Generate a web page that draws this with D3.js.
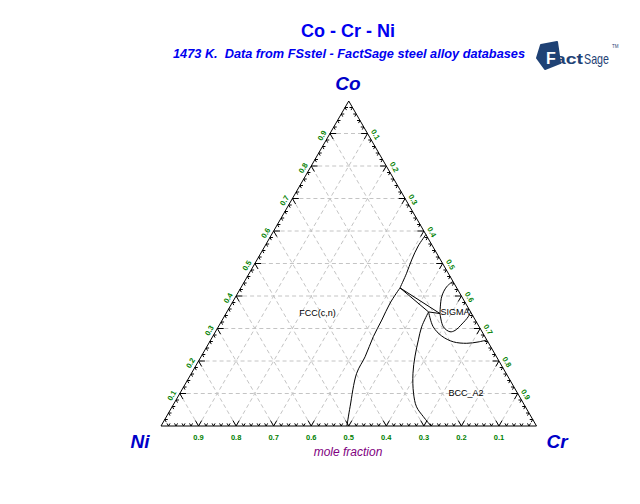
<!DOCTYPE html>
<html><head><meta charset="utf-8">
<script src="https://cdn.jsdelivr.net/npm/d3@7"></script>
<style>html,body{margin:0;padding:0;background:#fff;}svg{display:block;font-family:"Liberation Sans",Arial,sans-serif;}</style>
</head><body>
<script>
// ---- data (mole fractions: [xCr, xCo]) ----
const title = "Co - Cr - Ni";
const subtitle = "1473 K.\u00a0 Data from FSstel - FactSage steel alloy databases";
const vertexLabels = ["Ni", "Cr", "Co"];
const majorTicks = [0.1,0.2,0.3,0.4,0.5,0.6,0.7,0.8,0.9];
const tickLabels = ["0.1","0.2","0.3","0.4","0.5","0.6","0.7","0.8","0.9"];
const axisTitle = "mole fraction";

const fccLower = [[0.495,0],[0.474,0.059],[0.440,0.162],[0.437,0.213],[0.428,0.275],[0.425,0.326],[0.421,0.378],[0.424,0.425]];
const fccUpper = [[0.424,0.425],[0.419,0.470],[0.412,0.511],[0.408,0.554],[0.411,0.589]];
const bccLeft = [[0.537,0.351],[0.5415,0.3055],[0.553,0.265],[0.569,0.215],[0.590,0.162],[0.622,0.101],[0.651,0.059],[0.684,0.029],[0.719,0]];
const bccTop = [[0.537,0.351],[0.572,0.3055],[0.609,0.277],[0.649,0.259],[0.687,0.2545],[0.715,0.2585],[0.7354,0.2646]];
const sigmaUpper = [[0.570,0.346],[0.5485,0.398],[0.5466,0.4286],[0.555,0.445]];
const sigmaLower = [[0.570,0.346],[0.599,0.3055],[0.6246,0.290],[0.636,0.294],[0.6446,0.314],[0.650,0.336],[0.649,0.351]];
const tieTriangle = [[0.424,0.425],[0.537,0.351],[0.570,0.346],[0.424,0.425]];
const phaseLabels = [{t:"FCC(c,n)",c:[0.242,0.349]},{t:"SIGMA",c:[0.6076,0.351]},{t:"BCC_A2",c:[0.7615,0.1015]}];

// ---- drawing ----
const svg = d3.select("body").append("svg").attr("width",640).attr("height",504);
svg.append("rect").attr("width",640).attr("height",504).attr("fill","#fff");

const xs = d3.scaleLinear().domain([0,1]).range([161,536.5]);
const ys = d3.scaleLinear().domain([0,1]).range([426,101]);
const P = (cr,co) => [xs(cr+co/2), ys(co)];
const line = d3.line().x(d=>P(d[0],d[1])[0]).y(d=>P(d[0],d[1])[1]);
const smooth = d3.line().x(d=>P(d[0],d[1])[0]).y(d=>P(d[0],d[1])[1]).curve(d3.curveCatmullRom);

// grid
const g = svg.append("g").attr("stroke","#c4c4c4").attr("stroke-dasharray","4,3").attr("fill","none");
majorTicks.forEach(t=>{
  g.append("path").attr("d",line([[0,t],[1-t,t]]));      // Co const
  g.append("path").attr("d",line([[t,0],[t,1-t]]));      // Cr const
  g.append("path").attr("d",line([[t,0],[0,t]]));        // Ni const
});

// triangle
svg.append("path").attr("d",line([[0,0],[1,0],[0,1],[0,0]])).attr("fill","none").attr("stroke","#000").attr("stroke-width",1);

// ticks
const tk = svg.append("g").attr("stroke","#000").attr("fill","none");
for(let i=1;i<50;i++){
  const t=i/50; const major = (i%5===0); const d = major?0.017:0.008;
  tk.append("path").attr("d",line([[t,0],[t,d]]));
  tk.append("path").attr("d",line([[t,0],[t-d,d]]));
  tk.append("path").attr("d",line([[0,t],[d,t]]));
  tk.append("path").attr("d",line([[0,t],[d,t-d]]));
  tk.append("path").attr("d",line([[1-t,t],[1-t-d,t]]));
  tk.append("path").attr("d",line([[1-t,t],[1-t,t-d]]));
}

// tick labels
const tl = svg.append("g").attr("fill","#008000").attr("font-size","7.5px").attr("font-weight","bold").attr("text-anchor","middle");
majorTicks.forEach((t,i)=>{
  const b = P(1-t,0);
  tl.append("text").attr("x",b[0]).attr("y",b[1]+14).text(tickLabels[i]);
  const l = P(0,t);
  tl.append("text").attr("transform",`translate(${l[0]-8},${l[1]+2}) rotate(-60)`).attr("dy","0.35em").text(tickLabels[i]);
  const r = P(t,1-t);
  tl.append("text").attr("transform",`translate(${r[0]+8},${r[1]+1}) rotate(60)`).attr("dy","0.35em").text(tickLabels[i]);
});

// phase boundaries
const pb = svg.append("g").attr("stroke","#000").attr("fill","none").attr("stroke-width",1);
[fccLower,fccUpper,bccLeft,bccTop,sigmaUpper,sigmaLower].forEach(c=>pb.append("path").attr("d",smooth(c)));
pb.append("path").attr("d",line(tieTriangle));

// phase labels
phaseLabels.forEach(p=>{
  const q = P(p.c[0],p.c[1]);
  svg.append("text").attr("x",q[0]).attr("y",q[1]).attr("dy","0.35em").attr("text-anchor","middle")
    .attr("font-size","9px").attr("fill","#000").text(p.t);
});

// titles
svg.append("text").attr("x",348).attr("y",37).attr("text-anchor","middle").attr("font-size","18px")
  .attr("font-weight","bold").attr("fill","#0000f0").text(title);
svg.append("text").attr("x",349).attr("y",58).attr("text-anchor","middle").attr("font-size","12px")
  .attr("font-weight","bold").attr("font-style","italic").attr("fill","#0000f0")
  .attr("textLength",352).attr("lengthAdjust","spacingAndGlyphs").text(subtitle);

// vertex labels
const vl = svg.append("g").attr("font-size","19px").attr("font-weight","bold").attr("font-style","italic").attr("fill","#0000c8").attr("text-anchor","middle");
vl.append("text").attr("x",348).attr("y",90).text(vertexLabels[2]);
vl.append("text").attr("x",140).attr("y",448).text(vertexLabels[0]);
vl.append("text").attr("x",557).attr("y",448).text(vertexLabels[1]);

svg.append("text").attr("x",348).attr("y",456).attr("text-anchor","middle").attr("font-size","12px")
  .attr("font-style","italic").attr("fill","#800080").text(axisTitle);

// FactSage logo
const lg = svg.append("g");
lg.append("path").attr("d","M541,45 L557,42 L560,63 L545,69 L537,58 Z").attr("fill","#1f4275").attr("stroke","#1f4275").attr("stroke-linejoin","round").attr("stroke-width",2);
lg.append("text").attr("x",546).attr("y",64).attr("font-size","16px").attr("font-weight","bold").attr("fill","#fff").text("F");
lg.append("text").attr("x",555).attr("y",64).attr("font-size","14px").attr("font-weight","bold").attr("fill","#1f4275").attr("textLength",28).attr("lengthAdjust","spacingAndGlyphs").text("act");
lg.append("text").attr("x",584).attr("y",64).attr("font-size","15px").attr("fill","#1f4275").attr("textLength",25).attr("lengthAdjust","spacingAndGlyphs").text("Sage");
lg.append("text").attr("x",612).attr("y",48).attr("font-size","4.5px").attr("fill","#1f4275").text("TM");
</script>
</body></html>
